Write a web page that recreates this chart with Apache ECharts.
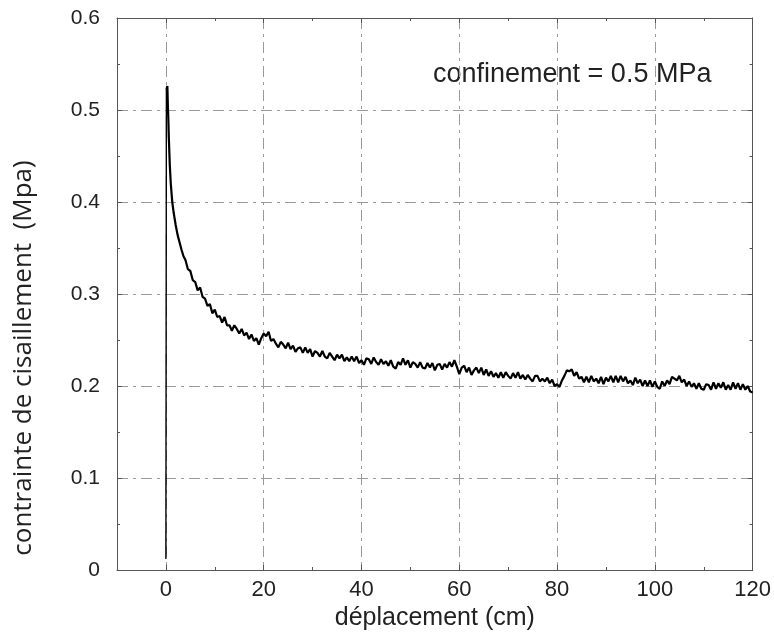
<!DOCTYPE html>
<html>
<head>
<meta charset="utf-8">
<script src="https://cdn.jsdelivr.net/npm/echarts@6/dist/echarts.min.js"></script>
<style>html,body{margin:0;padding:0;background:#fff}#c{width:774px;height:636px}</style>
</head>
<body>
<div id="c"></div>
<script>
// ---- data ----
const displacement = [
  0,0.1,0.3,0.4,0.5,0.6,0.8,1.0,1.3,1.6,2.0,2.4,2.8,3.2,3.6,4.0,4.5,5.0,5.5,6.0,6.5,7.0,7.5,
  8,8.5,9,9.5,10,10.5,11,11.5,12,12.5,13,13.5,14,14.5,15,15.5,16,16.5,17,17.5,
  18,18.5,19,19.5,20,20.5,21,21.5,22,22.5,23,23.5,24,24.5,25,25.5,26,26.5,27,27.5,
  28,28.5,29,29.5,30,30.5,31,31.5,32,32.5,33,33.5,34,34.5,35,35.5,36,36.5,37,37.5,
  38,38.5,39,39.5,40,40.5,41,41.5,42,42.5,43,43.5,44,44.5,45,45.5,46,46.5,47,47.5,
  48,48.5,49,49.5,50,50.5,51,51.5,52,52.5,53,53.5,54,54.5,55,55.5,56,56.5,57,57.5,
  58,58.5,59,59.5,60,60.5,61,61.5,62,62.5,63,63.5,64,64.5,65,65.5,66,66.5,67,67.5,
  68,68.5,69,69.5,70,70.5,71,71.5,72,72.5,73,73.5,74,74.5,75,75.5,76,76.5,77,77.5,
  78,78.5,79,79.5,80,80.5,81,81.5,82,82.5,83,83.5,84,84.5,85,85.5,86,86.5,87,87.5,
  88,88.5,89,89.5,90,90.5,91,91.5,92,92.5,93,93.5,94,94.5,95,95.5,96,96.5,97,97.5,
  98,98.5,99,99.5,100,100.5,101,101.5,102,102.5,103,103.5,104,104.5,105,105.5,106,106.5,107,107.5,
  108,108.5,109,109.5,110,110.5,111,111.5,112,112.5,113,113.5,114,114.5,115,115.5,116,116.5,117,117.5,
  118,118.5,119,119.5,120
];
const stress = [
  0.012,0.522,0.526,0.505,0.49,0.47,0.44,0.42,0.40,0.388,0.375,0.364,0.356,0.348,0.341,0.337,0.327,0.325,0.315,0.313,0.304,0.307,0.297,
  0.295,0.287,0.289,0.279,0.283,0.275,0.276,0.269,0.275,0.266,0.266,0.260,0.266,0.262,0.257,0.262,0.255,0.258,0.251,0.256,
  0.249,0.252,0.245,0.252,0.257,0.254,0.259,0.249,0.251,0.246,0.242,0.248,0.245,0.241,0.247,0.240,0.244,0.237,0.241,0.242,
  0.236,0.242,0.236,0.240,0.232,0.238,0.236,0.232,0.238,0.232,0.230,0.236,0.232,0.228,0.234,0.230,0.234,0.227,0.231,0.227,
  0.232,0.227,0.232,0.225,0.228,0.223,0.230,0.229,0.224,0.231,0.226,0.223,0.229,0.224,0.227,0.222,0.228,0.221,0.219,0.226,
  0.223,0.230,0.223,0.228,0.220,0.226,0.224,0.220,0.226,0.220,0.219,0.225,0.220,0.225,0.217,0.223,0.224,0.218,0.224,0.220,
  0.226,0.221,0.228,0.221,0.213,0.220,0.222,0.215,0.220,0.212,0.217,0.220,0.214,0.220,0.212,0.218,0.211,0.216,0.210,0.214,
  0.209,0.215,0.209,0.215,0.211,0.208,0.214,0.209,0.215,0.208,0.212,0.207,0.212,0.208,0.205,0.211,0.211,0.205,0.208,0.205,
  0.209,0.203,0.207,0.200,0.202,0.199,0.206,0.211,0.217,0.216,0.218,0.211,0.215,0.208,0.210,0.204,0.210,0.204,0.211,0.205,
  0.208,0.203,0.210,0.202,0.209,0.205,0.211,0.204,0.211,0.204,0.211,0.205,0.210,0.203,0.206,0.201,0.209,0.203,0.207,0.200,
  0.206,0.200,0.206,0.199,0.205,0.199,0.197,0.205,0.200,0.206,0.202,0.210,0.208,0.206,0.211,0.204,0.207,0.200,0.205,0.199,
  0.203,0.197,0.203,0.197,0.196,0.202,0.201,0.196,0.204,0.197,0.203,0.198,0.204,0.196,0.201,0.196,0.204,0.197,0.203,0.196,
  0.202,0.196,0.200,0.194,0.193
];
const xMajorTicks = [0, 20, 40, 60, 80, 100, 120];
const xTitle = 'déplacement (cm)';
const yTitle = 'contrainte de cisaillement  (Mpa)';
const annotation = 'confinement = 0.5 MPa';

// ---- chart ----
const chart = echarts.init(document.getElementById('c'), null, {renderer: 'canvas'});
const axisColor = '#555';
const textColor = '#222';
const gridLine = {show: true, lineStyle: {color: '#9a9a9a', width: 1, type: [11, 5, 3, 5]}};
const font = 'Liberation Sans, Arial, sans-serif';

function xMajor(pos, withLabels) {
  return {
    type: 'value', gridIndex: 0, min: -10, max: 120, position: pos,
    axisLine: {show: true, onZero: false, lineStyle: {color: axisColor, width: 1}},
    axisTick: {show: true, inside: true, length: 5, customValues: xMajorTicks, lineStyle: {color: axisColor}},
    axisLabel: withLabels ? {show: true, customValues: xMajorTicks, fontSize: 22, fontFamily: font, color: textColor, margin: 9}
                          : {show: false},
    splitLine: withLabels ? gridLine : {show: false},
    name: withLabels ? xTitle : '',
    nameLocation: 'middle', nameGap: 36,
    nameTextStyle: {fontSize: 25, fontFamily: font, color: textColor}
  };
}
function xMinor(pos) {
  return {
    type: 'value', gridIndex: 0, min: -10, max: 120, interval: 10, position: pos,
    axisLine: {show: false, onZero: false},
    axisTick: {show: true, inside: true, length: 3, lineStyle: {color: axisColor}},
    axisLabel: {show: false}, splitLine: {show: false}
  };
}
function yAxis(pos, withLabels) {
  return {
    type: 'value', min: 0, max: 0.6, interval: 0.1, position: pos,
    axisLine: {show: true, onZero: false, lineStyle: {color: axisColor, width: 1}},
    axisTick: {show: true, inside: true, length: 5, lineStyle: {color: axisColor}},
    minorTick: {show: true, splitNumber: 2, length: 3, lineStyle: {color: axisColor}},
    axisLabel: withLabels ? {show: true, fontSize: 21, fontFamily: font, color: textColor, margin: 17} : {show: false},
    splitLine: withLabels ? gridLine : {show: false}
  };
}

const seriesData = displacement.map((x, i) => [x, stress[i]]);
const risePart = seriesData.slice(0, 2);
const decayPart = seriesData.slice(1);

chart.setOption({
  animation: false,
  backgroundColor: '#fff',
  grid: {left: 117, right: 20, top: 18, bottom: 65, containLabel: false},
  xAxis: [xMajor('bottom', true), xMinor('bottom'), xMajor('top', false), xMinor('top')],
  yAxis: [yAxis('left', true), yAxis('right', false)],
  series: [{
    type: 'line', xAxisIndex: 0, yAxisIndex: 0,
    data: risePart, showSymbol: false, symbol: 'none',
    lineStyle: {color: '#000', width: 1.4},
    z: 5
  }, {
    type: 'line', xAxisIndex: 0, yAxisIndex: 0,
    data: decayPart, showSymbol: false, symbol: 'none',
    lineStyle: {color: '#000', width: 2.2},
    z: 6
  }],
  graphic: [
    {type: 'text', x: 24, y: 358, rotation: Math.PI / 2,
     style: {text: yTitle, fontSize: 26, fontFamily: 'Open Sans, sans-serif', fill: textColor, align: 'center', verticalAlign: 'middle'}},
    {type: 'text', x: 433, y: 75,
     style: {text: annotation, fontSize: 27, fontFamily: font, fill: textColor, align: 'left', verticalAlign: 'middle'}}
  ]
});
</script>
</body>
</html>
